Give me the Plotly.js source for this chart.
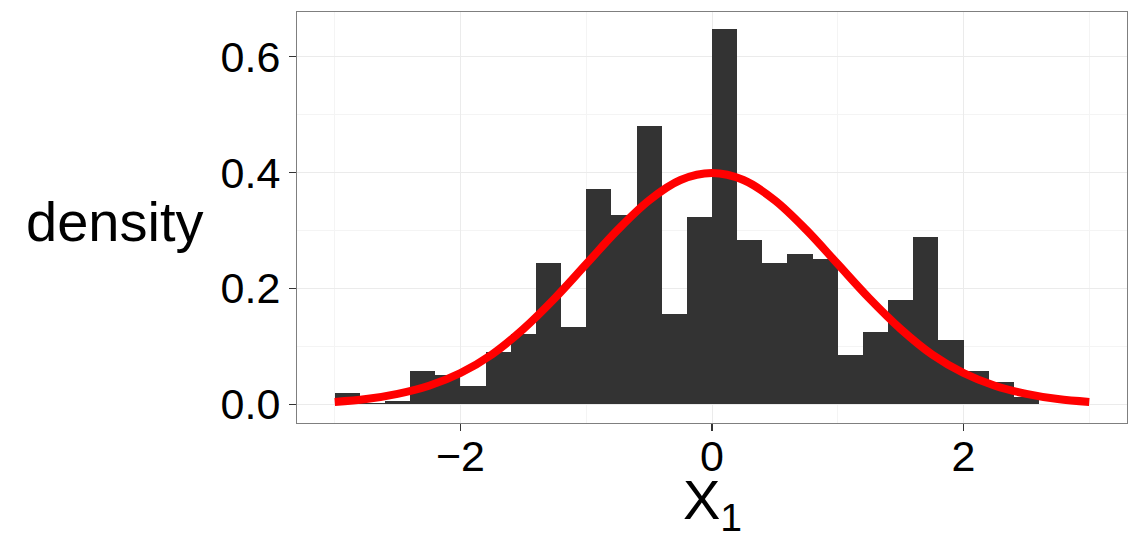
<!DOCTYPE html>
<html>
<head>
<meta charset="utf-8">
<script src="https://cdn.plot.ly/plotly-3.0.1.min.js"></script>
<style>html,body{margin:0;padding:0;background:#fff;}#chart{width:1129px;height:534px;}</style>
</head>
<body>
<div id="chart"></div>
<script>
// Histogram bins (centers, width 0.2) and densities
const binCenters = [-2.9,-2.7,-2.5,-2.3,-2.1,-1.9,-1.7,-1.5,-1.3,-1.1,-0.9,-0.7,-0.5,-0.3,-0.1,
                    0.1,0.3,0.5,0.7,0.9,1.1,1.3,1.5,1.7,1.9,2.1,2.3,2.5];
const binDensity = [0.019,0.003,0.006,0.058,0.051,0.032,0.091,0.121,0.243,0.134,0.372,0.327,0.480,0.155,0.324,
                    0.647,0.283,0.243,0.260,0.251,0.085,0.125,0.180,0.289,0.111,0.058,0.039,0.013];
// Red density curve
const curveX = [-3,-2.75,-2.5,-2.25,-2,-1.75,-1.5,-1.25,-1,-0.75,-0.5,-0.25,0,0.25,0.5,0.75,1,1.25,1.5,1.75,2,2.25,2.5,2.75,3];
const curveY = [0.004,0.009,0.018,0.032,0.054,0.086,0.130,0.183,0.242,0.301,0.352,0.387,0.399,0.387,0.352,0.301,0.242,0.183,0.130,0.086,0.054,0.032,0.018,0.009,0.004];
const xTicks = [-2,0,2];
const xTickText = ['\u22122','0','2'];
const yTicks = [0,0.2,0.4,0.6];
const yTickText = ['0.0','0.2','0.4','0.6'];

const traces = [
  {type:'bar', x:binCenters, y:binDensity, width:0.2, marker:{color:'#333333', line:{width:0}}, hoverinfo:'skip'},
  {type:'scatter', mode:'lines', x:curveX, y:curveY, line:{color:'#ff0000', width:8, shape:'spline'}, hoverinfo:'skip'}
];
const font = 'Liberation Sans, Arial, Helvetica, sans-serif';
const layout = {
  width:1129, height:534,
  margin:{l:297, r:2, t:12, b:111},
  paper_bgcolor:'#ffffff', plot_bgcolor:'#ffffff',
  showlegend:false, bargap:0,
  font:{family:font, color:'#000000'},
  xaxis:{range:[-3.3,3.3], tickvals:xTicks, ticktext:xTickText, ticks:'outside', ticklen:7, tickcolor:'#333333', tickwidth:1.5,
         ticklabelstandoff:-12,
         tickfont:{size:43, color:'#000'}, showgrid:true, gridcolor:'#ebebeb', gridwidth:1, zeroline:false,
         minor:{tickvals:[-3,-1,1,3], showgrid:true, gridcolor:'#f4f4f4', gridwidth:1, ticks:''},
         showline:true, linecolor:'#7f7f7f', linewidth:1, mirror:true},
  yaxis:{range:[-0.0323,0.677], tickvals:yTicks, ticktext:yTickText, ticks:'outside', ticklen:7, tickcolor:'#333333', tickwidth:1.5,
         tickfont:{size:43, color:'#000'}, showgrid:true, gridcolor:'#ebebeb', gridwidth:1, zeroline:false,
         minor:{tickvals:[0.1,0.3,0.5], showgrid:true, gridcolor:'#f4f4f4', gridwidth:1, ticks:''},
         showline:true, linecolor:'#7f7f7f', linewidth:1, mirror:true},
  annotations:[
    {text:'density', xref:'paper', yref:'paper', x:-0.1108, y:0.49, xanchor:'right', yanchor:'middle',
     showarrow:false, font:{size:56, color:'#000', family:font}},
    {text:'X<sub>1</sub>', xref:'x', yref:'paper', x:0, y:-0.105, xanchor:'center', yanchor:'top',
     showarrow:false, font:{size:56, color:'#000', family:font}}
  ]
};
Plotly.newPlot('chart', traces, layout, {displayModeBar:false, staticPlot:true});
</script>
</body>
</html>
